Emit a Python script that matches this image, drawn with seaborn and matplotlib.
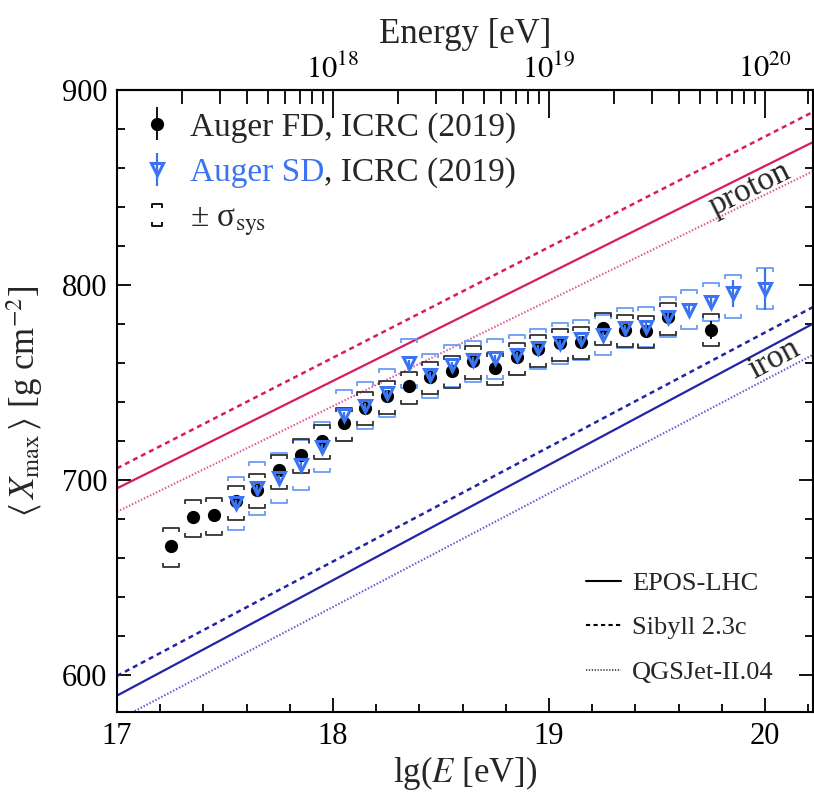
import numpy as np
import pandas as pd
import matplotlib
matplotlib.use("Agg")
import matplotlib.pyplot as plt
from matplotlib.path import Path
from matplotlib.lines import Line2D
from matplotlib.ticker import MultipleLocator, FixedLocator, NullFormatter
import seaborn as sns

# Auger FD, ICRC (2019)
fd_lge = [17.25, 17.35, 17.45, 17.55, 17.65, 17.75, 17.85, 17.95, 18.05, 18.15,
          18.25, 18.35, 18.45, 18.55, 18.65, 18.75, 18.85, 18.95, 19.05, 19.15,
          19.25, 19.35, 19.45, 19.55, 19.75]
fd_xmax = [666, 681, 682, 689, 695, 705, 713, 720, 729, 737,
           743, 748, 753, 756, 761, 757.5, 763, 767, 770, 771,
           778, 777, 776.5, 783.5, 777]
fd_stat = [1.5, 1.0, 1.0, 1.0, 1.0, 1.0, 1.0, 1.0, 1.0, 1.0,
           1.0, 1.0, 1.0, 1.2, 1.3, 1.5, 1.7, 2.0, 2.2, 2.5,
           2.8, 3.0, 3.3, 3.5, 4.5]
fd_sys_up = [9.5, 8.5, 8.5, 8, 8, 8, 8, 8, 8, 8,
             8, 7.5, 7.5, 7.5, 7.5, 7.5, 7.5, 7.5, 7.5, 7.5,
             7.5, 7.5, 7.5, 7.5, 8]
fd_sys_lo = [10.5, 10.5, 10, 9.5, 9.5, 9.5, 9.5, 9.5, 9, 9,
             9, 9, 9, 9, 9, 9, 9, 9, 9, 9,
             9, 9, 9, 9, 8.5]

# Auger SD, ICRC (2019)
sd_lge = [17.55, 17.65, 17.75, 17.85, 17.95, 18.05, 18.15, 18.25, 18.35, 18.45,
          18.55, 18.65, 18.75, 18.85, 18.95, 19.05, 19.15, 19.25, 19.35, 19.45,
          19.55, 19.65, 19.75, 19.85, 20.0]
sd_xmax = [688, 695.7, 701, 707.7, 717, 733.5, 738, 744.4, 759.8, 753.8,
           759, 761.5, 762.4, 764.1, 767.5, 770.4, 772.1, 774.4, 778, 778.6,
           783.8, 787.2, 791.4, 795.7, 798]
sd_stat = [1.5, 1.5, 1.5, 1.5, 1.5, 1.5, 1.5, 1.5, 1.5, 1.5,
           1.5, 1.5, 1.5, 1.5, 1.5, 1.5, 1.5, 1.5, 1.7, 1.8,
           2.0, 2.5, 3.5, 7.0, 10.7]
sd_sys_up = [13.5, 13.5, 13, 13, 12.5, 12.5, 12.5, 12.5, 12.5, 11,
             10, 10, 10, 10, 10, 10, 10, 10, 10, 10,
             10, 10, 9.5, 9.5, 10.5]
sd_sys_lo = [13.5, 13.5, 13, 13, 13, 13.5, 12, 12, 12.5, 12,
             11.5, 11, 10.5, 10.3, 10.5, 11, 10.5, 10.5, 10.5, 10.5,
             10.5, 10, 10, 12.5, 10.5]

# air-shower model predictions, straight lines in lg(E)
model_lge = [17.0, 20.5]
proton_epos = [695.7, 888.6]
proton_sibyll = [706.0, 904.5]
proton_qgsjet = [683.7, 873.4]
iron_epos = [589.4, 796.6]
iron_sibyll = [599.5, 805.0]
iron_qgsjet = [576.7, 780.4]
model_names = ["EPOS-LHC", "Sibyll 2.3c", "QGSJet-II.04"]

PROTON = "#d81b64"
PROTON_DOT = "#e0559a"
IRON = "#2323a6"
IRON_DOT = "#5a5ad2"
SD_BLUE = "#3b74f2"
SD_SYS = "#6a9cf5"
FD_SYS = "#333333"

DASH = (0, (2.0, 1.6))
DOT = (0, (0.7, 0.9))

sns.set_theme(style="ticks", rc={"axes.edgecolor": "black", "axes.linewidth": 1.5,
                                 "xtick.color": "black", "ytick.color": "black"})
plt.rcParams["font.family"] = ["Liberation Serif", "DejaVu Serif"]
plt.rcParams["mathtext.fontset"] = "stix"

fig = plt.figure(figsize=(8.14, 7.93), dpi=100)
ax = fig.add_axes([117 / 814, 1 - 712 / 793, (813 - 117) / 814, (712 - 90) / 793])

lines = pd.DataFrame({
    "lgE": model_lge * 6,
    "Xmax": proton_epos + proton_sibyll + proton_qgsjet + iron_epos + iron_sibyll + iron_qgsjet,
    "curve": np.repeat(["p_epos", "p_sib", "p_qgs", "fe_epos", "fe_sib", "fe_qgs"], 2),
})
styles = {
    "p_epos": (PROTON, "-", 1.6), "p_sib": (PROTON, DASH, 1.8), "p_qgs": (PROTON_DOT, DOT, 1.5),
    "fe_epos": (IRON, "-", 1.6), "fe_sib": (IRON, DASH, 1.8), "fe_qgs": (IRON_DOT, DOT, 1.5),
}
for name, (col, ls, lw) in styles.items():
    sns.lineplot(data=lines[lines.curve == name], x="lgE", y="Xmax", color=col,
                 linestyle=ls, lw=lw, ax=ax, legend=False, zorder=2)

# systematic brackets
cap_top = Path([(-1, -0.5), (-1, 0), (1, 0), (1, -0.5)])
cap_bot = Path([(-1, 0.5), (-1, 0), (1, 0), (1, 0.5)])
fd_x = np.array(fd_xmax)
sd_x = np.array(sd_xmax)
ax.plot(sd_lge, sd_x + np.array(sd_sys_up), ls="none", marker=cap_top, ms=11.5,
        mfc="none", mec=SD_SYS, mew=1.3, zorder=3)
ax.plot(sd_lge, sd_x - np.array(sd_sys_lo), ls="none", marker=cap_bot, ms=11.5,
        mfc="none", mec=SD_SYS, mew=1.3, zorder=3)
ax.plot(fd_lge, fd_x + np.array(fd_sys_up), ls="none", marker=cap_top, ms=11.5,
        mfc="none", mec=FD_SYS, mew=1.3, zorder=3)
ax.plot(fd_lge, fd_x - np.array(fd_sys_lo), ls="none", marker=cap_bot, ms=11.5,
        mfc="none", mec=FD_SYS, mew=1.3, zorder=3)

fd_eb = ax.errorbar(fd_lge, fd_xmax, yerr=fd_stat, fmt="o", color="black", ms=8.5,
                    elinewidth=1.3, capsize=0, zorder=4)
sd_eb = ax.errorbar(sd_lge, sd_xmax, yerr=sd_stat, fmt="v", color=SD_BLUE, mfc="none",
                    mec=SD_BLUE, mew=2.2, ms=9, elinewidth=1.6, capsize=0, zorder=5)

ax.set_xlim(17, 20.222)
ax.set_ylim(581, 900)
ax.xaxis.set_major_locator(MultipleLocator(1))
ax.xaxis.set_minor_locator(MultipleLocator(0.2))
ax.yaxis.set_major_locator(MultipleLocator(100))
ax.yaxis.set_minor_locator(MultipleLocator(20))
ax.tick_params(which="both", direction="in", top=False, right=True, width=1.3,
               labelsize=22)
ax.tick_params(which="major", length=10, pad=7)
ax.tick_params(which="minor", length=6)
ax.set_xlabel(r"lg($E$ [eV])", fontsize=25, labelpad=2)
ax.set_ylabel(r"$\langle\,X_{\rm max}\,\rangle$ [g cm$^{-2}$]", fontsize=25, labelpad=12)

top = ax.secondary_xaxis("top")
top.xaxis.set_major_locator(FixedLocator([18, 19, 20]))
top.set_xticklabels([r"$10^{18}$", r"$10^{19}$", r"$10^{20}$"])
top.xaxis.set_minor_locator(FixedLocator(
    [np.log10(k * 10.0 ** n) for n in (17, 18, 19) for k in range(2, 10)] + [np.log10(2e20) - 0.1]))
top.xaxis.set_minor_formatter(NullFormatter())
top.tick_params(which="both", direction="in", width=1.3, labelsize=22)
top.tick_params(which="major", length=20, pad=4)
top.tick_params(which="minor", length=10)
top.set_xlabel("Energy [eV]", fontsize=25, labelpad=8)

# labels along the model lines
fig.canvas.draw()
for txt, lx, ly, yy in [("proton", 19.93, 849.5, proton_epos), ("iron", 20.04, 762, iron_epos)]:
    p0 = ax.transData.transform((model_lge[0], yy[0]))
    p1 = ax.transData.transform((model_lge[1], yy[1]))
    ang = np.degrees(np.arctan2(p1[1] - p0[1], p1[0] - p0[0]))
    ax.text(lx, ly, txt, rotation=ang, rotation_mode="anchor", ha="center", va="center",
            fontsize=24, zorder=6)

# legends
sys_path = Path([(-0.45, 0.65), (-0.45, 1), (0.45, 1), (0.45, 0.65),
                 (-0.45, -0.65), (-0.45, -1), (0.45, -1), (0.45, -0.65)],
                [Path.MOVETO, Path.LINETO, Path.LINETO, Path.LINETO,
                 Path.MOVETO, Path.LINETO, Path.LINETO, Path.LINETO])
sys_handle = Line2D([], [], ls="none", marker=sys_path, ms=16.5, mfc="none",
                    mec="black", mew=1.3)
leg1 = ax.legend([fd_eb, sd_eb, sys_handle],
                 ["Auger FD, ICRC (2019)", "Auger SD", "± σ$_{\\rm sys}$"],
                 loc="upper left", bbox_to_anchor=(0.033, 0.965), frameon=False,
                 fontsize=24, handlelength=1.0, handletextpad=0.5, borderpad=0,
                 borderaxespad=0, labelspacing=0.45)
leg1.get_texts()[1].set_color(SD_BLUE)
ax.add_artist(leg1)
ax.annotate(", ICRC (2019)", xy=(1, 0), xycoords=leg1.get_texts()[1], ha="left",
            va="bottom", fontsize=24, zorder=7)

model_handles = [Line2D([], [], color="black", lw=1.5, ls="-"),
                 Line2D([], [], color="black", lw=1.5, ls=DASH),
                 Line2D([], [], color="#444444", lw=1.3, ls=DOT)]
ax.legend(model_handles, model_names, loc="lower right", bbox_to_anchor=(0.943, 0.045),
          frameon=False, fontsize=19, handlelength=1.35, handletextpad=0.4,
          borderpad=0, borderaxespad=0, labelspacing=0.8)

fig.savefig("out.png", dpi=100)
